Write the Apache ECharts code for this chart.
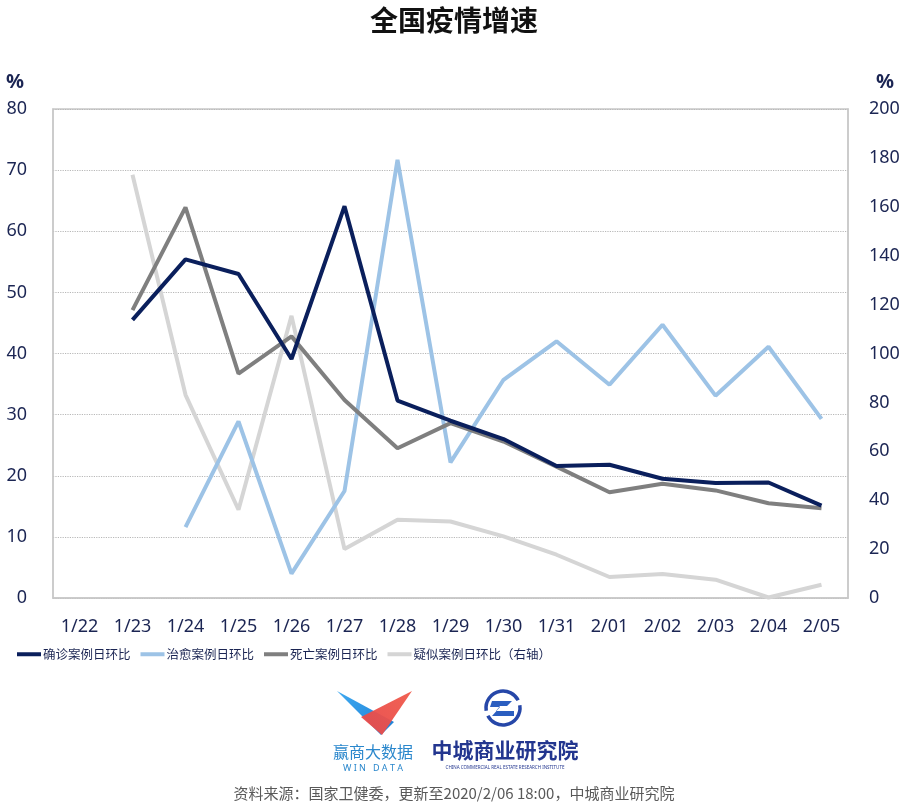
<!DOCTYPE html>
<html>
<head>
<meta charset="utf-8">
<script src="https://cdn.jsdelivr.net/npm/echarts@6/dist/echarts.min.js"></script>
<style>html,body{margin:0;padding:0;background:#fff;}#c{width:908px;height:803px;}</style>
</head>
<body>
<div id="c"></div>
<script>
const categories = ['1/22','1/23','1/24','1/25','1/26','1/27','1/28','1/29','1/30','1/31','2/01','2/02','2/03','2/04','2/05'];
const confirmedRate = [null,45.5,55.4,53.0,39.1,64.1,32.3,29.0,26.0,21.6,21.8,19.5,18.8,18.9,15.1];
const curedRate     = [null,null,11.6,28.9,4.0,17.5,71.7,22.2,35.7,42.0,34.9,44.7,33.1,41.1,29.3];
const deathRate     = [null,47.1,63.9,36.7,42.8,32.4,24.5,28.6,25.6,21.5,17.3,18.7,17.6,15.5,14.7];
const suspectedRate = [null,173.1,83.1,36.1,115.4,20.0,32.0,31.3,25.2,17.7,8.6,9.8,7.5,0.2,5.4];
const seriesNames = ['确诊案例日环比','治愈案例日环比','死亡案例日环比','疑似案例日环比（右轴）'];
const leftTicks = {min:0,max:80,interval:10};
const rightTicks = {min:0,max:200,interval:20};

const NAVY = '#1b2553';
const CJK = '"Noto Sans CJK SC","Noto Sans",sans-serif';
const chart = echarts.init(document.getElementById('c'));
chart.setOption({
  backgroundColor:'#fff',
  animation:false,
  title:{text:'全国疫情增速',left:'center',top:1,textStyle:{fontFamily:CJK,fontSize:28,fontWeight:'bold',color:'#111'}},
  grid:{left:53,right:60,top:109,bottom:205,show:true,borderColor:'#c8c8c8',borderWidth:1.5,backgroundColor:'transparent'},
  legend:{left:12,top:643,itemWidth:24,itemHeight:4,itemGap:10,icon:'rect',
    textStyle:{fontFamily:CJK,fontSize:12.5,color:NAVY,padding:[0,0,0,-3]},
    data:seriesNames},
  xAxis:{type:'category',data:categories,boundaryGap:true,
    axisLine:{lineStyle:{color:'#c8c8c8',width:1.5}},
    axisTick:{inside:true,length:5,interval:0,lineStyle:{color:'#c8c8c8',width:1.5}},
    axisLabel:{interval:0,margin:20,fontFamily:'"Noto Sans",sans-serif',fontSize:18,color:NAVY}},
  yAxis:[
    {type:'value',min:leftTicks.min,max:leftTicks.max,interval:leftTicks.interval,
      axisLine:{show:true,lineStyle:{color:'#c8c8c8',width:1.5}},axisTick:{show:false},
      axisLabel:{margin:26,fontFamily:'"Noto Sans",sans-serif',fontSize:18,color:NAVY},
      splitLine:{show:true,lineStyle:{type:'dotted',color:'#b8b8b8',width:1.2}}},
    {type:'value',min:rightTicks.min,max:rightTicks.max,interval:rightTicks.interval,
      axisLine:{show:true,lineStyle:{color:'#c8c8c8',width:1.5}},axisTick:{show:false},
      axisLabel:{margin:21,fontFamily:'"Noto Sans",sans-serif',fontSize:18,color:NAVY},
      splitLine:{show:false}}
  ],
  series:[
    {name:seriesNames[0],type:'line',data:confirmedRate,yAxisIndex:0,showSymbol:false,symbol:'none',z:5,
      lineStyle:{width:4,color:'#0a1f5c'},itemStyle:{color:'#0a1f5c'}},
    {name:seriesNames[1],type:'line',data:curedRate,yAxisIndex:0,showSymbol:false,symbol:'none',z:3,
      lineStyle:{width:4,color:'#9dc3e6'},itemStyle:{color:'#9dc3e6'}},
    {name:seriesNames[2],type:'line',data:deathRate,yAxisIndex:0,showSymbol:false,symbol:'none',z:4,
      lineStyle:{width:4,color:'#7f7f7f'},itemStyle:{color:'#7f7f7f'}},
    {name:seriesNames[3],type:'line',data:suspectedRate,yAxisIndex:1,showSymbol:false,symbol:'none',z:2,
      lineStyle:{width:4,color:'#d5d5d5'},itemStyle:{color:'#d5d5d5'}}
  ],
  graphic:[
    {type:'text',left:6,top:72,style:{text:'%',font:'bold 20px "Noto Sans",sans-serif',fill:NAVY}},
    {type:'text',left:876,top:72,style:{text:'%',font:'bold 20px "Noto Sans",sans-serif',fill:NAVY}},
    // WIN DATA logo
    {type:'polygon',shape:{points:[[337,691],[394,722],[381,735]]},style:{fill:new echarts.graphic.LinearGradient(0,0,1,1,[{offset:0,color:'#3fa9f0'},{offset:1,color:'#1c7fd6'}])}},
    {type:'polygon',shape:{points:[[412,691],[361,717],[382,735]]},style:{fill:new echarts.graphic.LinearGradient(1,0,0,1,[{offset:0,color:'#f05a4a'},{offset:1,color:'#e8484a'}]),opacity:0.95}},
    {type:'text',x:373,y:752,style:{text:'赢商大数据',font:'16px "Noto Sans CJK SC"',fill:'#2a87cc',align:'center',verticalAlign:'middle'}},
    {type:'text',x:373,y:768,style:{text:'W I N   D A T A',font:'9px "Noto Sans",sans-serif',fill:'#2a87cc',align:'center',verticalAlign:'middle'}},
    // CCRERI logo
    {type:'arc',shape:{cx:503,cy:708,r:17,startAngle:Math.PI*0.95,endAngle:Math.PI*1.85},style:{stroke:'#2647a8',lineWidth:3.5,fill:null}},
    {type:'arc',shape:{cx:503,cy:708,r:17,startAngle:Math.PI*-0.05,endAngle:Math.PI*0.85},style:{stroke:'#2647a8',lineWidth:3.5,fill:null}},
    {type:'polygon',shape:{points:[[492,701],[512,701],[507,706],[500,706],[496,711],[514,711],[514,716],[492,716],[500,707],[490,707]]},style:{fill:'#2b5ec0'}},
    {type:'text',x:505,y:750,style:{text:'中城商业研究院',font:'bold 21px "Noto Sans CJK SC"',fill:'#23368f',align:'center',verticalAlign:'middle'}},
    {type:'text',x:505,y:768,style:{text:'CHINA COMMERCIAL REAL ESTATE RESEARCH INSTITUTE',font:'4.5px "Noto Sans",sans-serif',fill:'#23368f',align:'center',verticalAlign:'middle'}},
    {type:'text',x:454,y:793,style:{text:'资料来源：国家卫健委，更新至2020/2/06 18:00，中城商业研究院',font:'15px "Noto Sans CJK SC"',fill:'#595959',align:'center',verticalAlign:'middle'}}
  ]
});
</script>
</body>
</html>
